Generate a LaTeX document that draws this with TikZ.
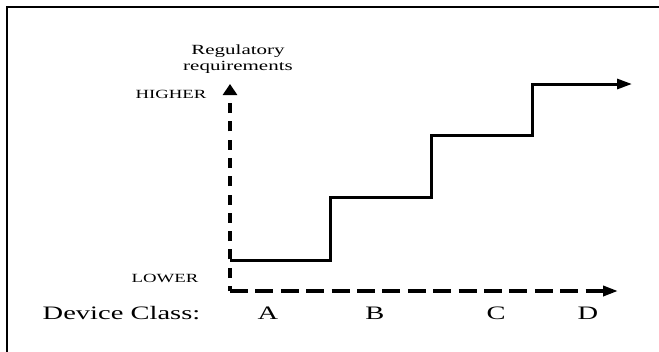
\documentclass[tikz,border=0pt]{standalone}
\usepackage{fontspec}
\usepackage{graphicx}
\setmainfont{Liberation Serif}
\usetikzlibrary{arrows.meta}
\newcommand{\wide}[1]{\scalebox{1.5}[1]{#1}}
\begin{document}
\begin{tikzpicture}[x=1pt,y=-1pt,
  lbl/.style={inner sep=0pt,anchor=base},
  big/.style={lbl,font=\fontsize{19}{22}\selectfont},
  small/.style={lbl,font=\fontsize{12.5}{15}\selectfont},
  axisv/.style={line width=3.5pt,dash pattern=on 10pt off 8.3pt,dash phase=5pt,-{Triangle[length=11pt,width=14pt]}},
  axish/.style={line width=3.5pt,dash pattern=on 18pt off 7.4pt,-{Triangle[length=15pt,width=10pt]}},
  stepline/.style={line width=3pt,-{Triangle[length=15pt,width=10pt]}},
  frame/.style={line width=2.2pt}]
\useasboundingbox (0,0) rectangle (659,351);
% frame (open on right and bottom)
\coordinate (fbl) at (7,352);
\coordinate (ftl) at (7,7);
\coordinate (ftr) at (660,7);
\draw[frame] (fbl) -- (ftl) -- (ftr);
% axes
\coordinate (o) at (230,291);
\coordinate (ytop) at (230,84);
\coordinate (xend) at (618,291);
\draw[axisv] (o) -- (ytop);
\draw[axish] (o) -- (xend);
% step line
\coordinate (s0) at (230,260);
\coordinate (s1) at (330,260);
\coordinate (s2) at (330,197);
\coordinate (s3) at (431,197);
\coordinate (s4) at (431,135);
\coordinate (s5) at (532,135);
\coordinate (s6) at (532,84);
\coordinate (s7) at (632,84);
\draw[stepline] (s0) -- (s1) -- (s2) -- (s3) -- (s4) -- (s5) -- (s6) -- (s7);
% labels
\node[lbl,font=\fontsize{14}{16}\selectfont] (reg1) at (238,54) {\wide{Regulatory}};
\node[lbl,font=\fontsize{14}{16}\selectfont] (reg2) at (238,70) {\wide{requirements}};
\node[small] (hi) at (171,98) {\wide{HIGHER}};
\node[small] (lo) at (165,282) {\wide{LOWER}};
\node[big] (dc) at (121.5,319) {\wide{Device Class:}};
\node[big] (A) at (268,319) {\wide{A}};
\node[big] (B) at (375,319) {\wide{B}};
\node[big] (C) at (496,319) {\wide{C}};
\node[big] (D) at (588,319) {\wide{D}};
\end{tikzpicture}
\end{document}
